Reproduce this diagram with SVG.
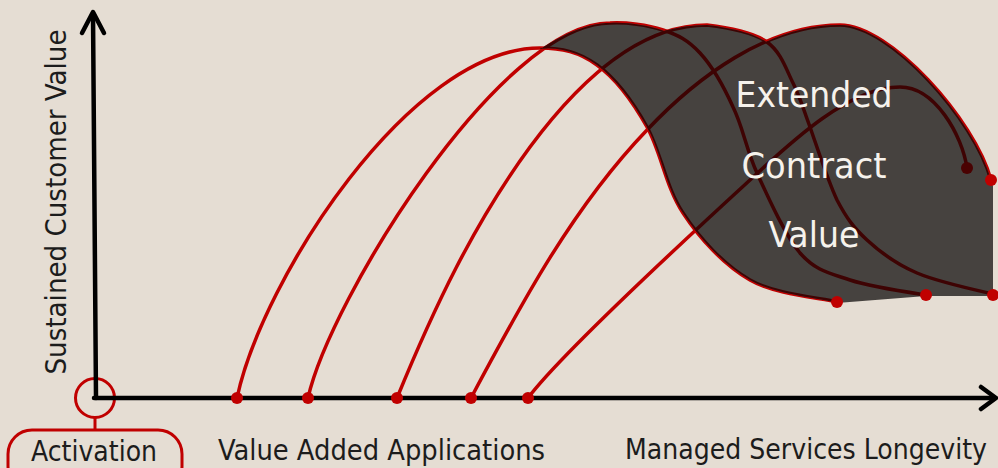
<svg xmlns="http://www.w3.org/2000/svg" width="998" height="468" viewBox="0 0 998 468">
<style>
.curve{fill:none;stroke:#c00000;stroke-width:3.5;stroke-linecap:round;stroke-linejoin:round}
.dark{fill:none;stroke:#3e0303;stroke-width:3.5;stroke-linecap:round;stroke-linejoin:round}
.axis{fill:none;stroke:#000;stroke-width:4.5;stroke-linecap:round;stroke-linejoin:round}
.dot{fill:#c00000}
.ddot{fill:#4a0202}
.lbl{font-family:"DejaVu Sans Condensed","DejaVu Sans","Liberation Sans",sans-serif;font-size:27.5px;fill:#1c1c1c}
.wlbl{font-family:"DejaVu Sans Condensed","DejaVu Sans","Liberation Sans",sans-serif;font-size:35px;fill:#f6f2ec;text-anchor:middle}
</style>
<defs>
<path id="c1" d="M237,398 C262,280 410,48 540,48 C562,48 579,52 597,65 C615,78 633,102 647,127 C661,152 666,188 683,213 C700,239 724,265 750,280 C776,295 823,298 837,302"/>
<path id="c2" d="M308,398 C330,300 500,23 610,23 C626,22 648,25 663,30 C678,35 688,40 700,53 C712,66 724,87 733,107 C743,127 746,149 757,173 C768,197 785,235 800,253 C816,271 829,273 850,280 C871,287 913,293 926,295"/>
<path id="c3" d="M397,398 C433,310 474,223 530,147 C573,89 635,25 707,25 C724,27 753,32 767,42 C781,52 786,69 793,83 C800,97 803,108 810,127 C817,147 828,181 837,200 C847,219 854,228 867,240 C880,252 896,264 917,273 C938,282 980,291 993,294"/>
<path id="c4" d="M471,398 C521,304 573,207 647,130 C697,77 767,25 840,25 C890,25 975,120 991,180"/>
<path id="c5" d="M528,398 C560,355 690,235 750,180 C793,140 850,87 900,87 C935,87 962,135 967,168"/>
<path id="area" d="M541,49 C564,33 590,23 610,23 C626,22 648,25 664,31 C678,27 693,25 707,25 C724,27 753,32 766,42 C789,31 814,25 840,25 C890,25 975,120 991,180 L993,186 L993,296 L926,296 L837,303 C823,298 776,295 750,280 C724,265 700,239 683,213 C666,188 661,152 647,127 C633,102 615,78 597,65 C579,52 562,48 540,48 Z"/>
<clipPath id="clipArea"><use href="#area"/></clipPath>
</defs>
<rect x="0" y="0" width="998" height="468" fill="#e5ddd3"/>

<g id="activation">
<circle cx="95" cy="398" r="19.5" fill="none" stroke="#c00000" stroke-width="3"/>
<line x1="95" y1="417.5" x2="95" y2="430" stroke="#c00000" stroke-width="3"/>
<rect x="8" y="430" width="174" height="60" rx="24" ry="24" fill="none" stroke="#c00000" stroke-width="3"/>
<text class="lbl" x="31" y="461" textLength="126" lengthAdjust="spacingAndGlyphs">Activation</text>
</g>

<g id="axes">
<path class="axis" d="M96,398 L93,14"/>
<path class="axis" d="M82,33 L93,12 L104,33"/>
<path class="axis" d="M94,398 L995,398"/>
<path class="axis" d="M981,387 L996,398 L981,409"/>
</g>

<g id="connectors">
<use href="#c1" class="curve"/>
<use href="#c2" class="curve"/>
<use href="#c3" class="curve"/>
<use href="#c4" class="curve"/>
<use href="#c5" class="curve"/>
<use href="#area" fill="#46423f"/>
<g clip-path="url(#clipArea)">
<use href="#c1" class="dark"/>
<use href="#c2" class="dark"/>
<use href="#c3" class="dark"/>
<use href="#c4" class="dark"/>
<use href="#c5" class="dark"/>
</g>
</g>

<g id="dots">
<circle class="dot" cx="237" cy="398" r="6"/>
<circle class="dot" cx="308" cy="398" r="6"/>
<circle class="dot" cx="397" cy="398" r="6"/>
<circle class="dot" cx="471" cy="398" r="6"/>
<circle class="dot" cx="528" cy="398" r="6"/>
<circle class="dot" cx="837" cy="302" r="6"/>
<circle class="dot" cx="926" cy="295" r="6"/>
<circle class="dot" cx="993" cy="295" r="6"/>
<circle class="dot" cx="991" cy="180" r="6"/>
<circle class="ddot" cx="967" cy="168" r="6"/>
</g>

<g id="labels">
<text class="lbl" transform="translate(66,202) rotate(-90)" text-anchor="middle" textLength="345" lengthAdjust="spacingAndGlyphs">Sustained Customer Value</text>
<text class="lbl" x="218" y="460" textLength="327" lengthAdjust="spacingAndGlyphs">Value Added Applications</text>
<text class="lbl" x="625" y="459" textLength="362" lengthAdjust="spacingAndGlyphs">Managed Services Longevity</text>
</g>

<g id="area-label">
<text class="wlbl" x="814" y="107" textLength="157" lengthAdjust="spacingAndGlyphs">Extended</text>
<text class="wlbl" x="814" y="178" textLength="145" lengthAdjust="spacingAndGlyphs">Contract</text>
<text class="wlbl" x="814" y="247" textLength="91" lengthAdjust="spacingAndGlyphs">Value</text>
</g>
</svg>
